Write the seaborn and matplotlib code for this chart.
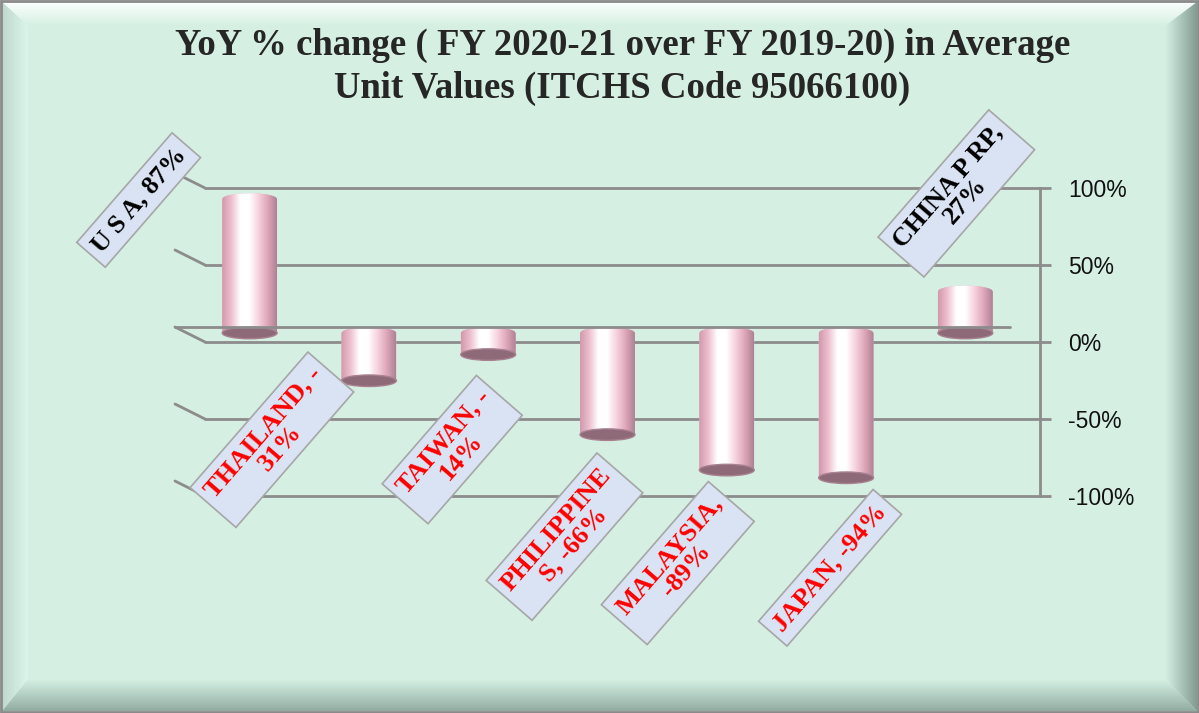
import numpy as np
import pandas as pd
import matplotlib
matplotlib.use("Agg")
import matplotlib.pyplot as plt
import matplotlib.transforms as mtransforms
from matplotlib.patches import Ellipse, Polygon, Rectangle
from matplotlib.colors import LinearSegmentedColormap
import seaborn as sns

# --- data ---
countries = ["U S A", "THAILAND", "TAIWAN", "PHILIPPINES", "MALAYSIA", "JAPAN", "CHINA P RP"]
yoy_change = [87, -31, -14, -66, -89, -94, 27]
label_text = ["U S A, 87%", "THAILAND, -\n31%", "TAIWAN, -\n14%", "PHILIPPINE\nS, -66%",
              "MALAYSIA,\n-89%", "JAPAN, -94%", "CHINA P RP,\n27%"]
y_ticks = [-100, -50, 0, 50, 100]
title = "YoY % change ( FY 2020-21 over FY 2019-20) in Average\nUnit Values (ITCHS Code 95066100)"

# label placement (pixel offsets from bar end)
label_offsets = [(-126, 8), (-112, -50), (-51, -86), (-58, -93), (-64, -84), (-31, -81), (-24, 107)]

sns.set_theme(style="white")
plt.rcParams["font.family"] = ["Liberation Serif", "DejaVu Sans"]

W, H = 1199, 713
mint = "#d5f0e3"
grid_col = "#8c8c8c"

fig = plt.figure(figsize=(W / 100, H / 100), dpi=100)
fig.patch.set_facecolor(mint)

# --- beveled frame ---
bg = fig.add_axes([0, 0, 1, 1], zorder=-10)
bg.axis("off")
g = np.linspace(0, 1, 64)


def bevel(poly, c_outer, c_inner, img, ext):
    cmap = LinearSegmentedColormap.from_list("b", [c_outer, c_inner])
    p = Polygon(poly, closed=True, fc="none", ec="none")
    bg.add_patch(p)
    im = bg.imshow(img, cmap=cmap, vmin=0, vmax=1, extent=ext, aspect="auto", origin="upper")
    im.set_clip_path(p)


ix0, iy0, ix1, iy1 = 28, 26, W - 34, H - 34
bevel([(2, 2), (W - 2, 2), (ix1, iy0), (ix0, iy0)], "#ffffff", mint, g[:, None], [0, W, iy0, 0])
bevel([(2, H - 2), (W - 2, H - 2), (ix1, iy1), (ix0, iy1)], "#8ea89e", mint, g[::-1][:, None], [0, W, H, iy1])
bevel([(2, 2), (ix0, iy0), (ix0, iy1), (2, H - 2)], "#bdd6cb", "#dcf5eb", g[None, :], [0, ix0, H, 0])
bevel([(W - 2, 2), (ix1, iy0), (ix1, iy1), (W - 2, H - 2)], "#7d978d", mint, g[::-1][None, :], [ix1, W, H, 0])
bg.set_xlim(0, W)
bg.set_ylim(H, 0)
bg.add_patch(Rectangle((1, 1), W - 2.5, H - 2.5, fc="none", ec="#8a8a8a", lw=2))

# --- main axes (back wall of the 3D plot) ---
left, right, top, bottom = 205, 1040, 188, 496
ax = fig.add_axes([left / W, (H - bottom) / H, (right - left) / W, (bottom - top) / H])
ax.set_facecolor("none")

df = pd.DataFrame({"country": countries, "change": yoy_change})
sns.barplot(data=df, x="country", y="change", color="#e8b6c6", width=0.46,
            saturation=1, ax=ax, zorder=3)

ax.set_ylim(-100, 100)
ax.set_xlim(-0.5, len(countries) - 0.5)
ax.set_xlabel("")
ax.set_ylabel("")
ax.set_xticks([])
ax.yaxis.tick_right()
ax.set_yticks(y_ticks)
ax.set_yticklabels([f"{t}%" for t in y_ticks], family="Liberation Sans", fontsize=16.5, color="#111111")
ax.tick_params(axis="y", direction="out", length=8, width=2, color=grid_col, pad=12)
ax.grid(axis="y", color=grid_col, lw=2)
for gl in ax.get_ygridlines():
    gl.set_clip_on(False)
ax.set_axisbelow(True)
for s in ["left", "top", "bottom"]:
    ax.spines[s].set_visible(False)
ax.spines["right"].set_color(grid_col)
ax.spines["right"].set_linewidth(2)

# side wall diagonals and front floor edge (depth offset)
depth = mtransforms.ScaledTranslation(-0.30, 0.15, fig.dpi_scale_trans)
for t in y_ticks:
    p = ax.transData.transform((-0.5, t))
    ax.plot([p[0] - 30, p[0]], [p[1] + 15, p[1]], color=grid_col, lw=2,
            transform=mtransforms.IdentityTransform(), clip_on=False, zorder=1)
ax.plot([-0.5, len(countries) - 0.5], [0, 0], color=grid_col, lw=2,
        transform=ax.transData + depth, clip_on=False, zorder=6)

# --- cylinders ---
half = mtransforms.ScaledTranslation(-0.15, 0.09, fig.dpi_scale_trans)
bar_trans = ax.transData + half
cyl = LinearSegmentedColormap.from_list(
    "cyl", ["#d299ad", "#edbfcf", "#ffffff", "#ffffff", "#f7d2de", "#dea7b9", "#ad8294"])
grad = np.linspace(0, 1, 128)[None, :]
ell_h = 7.5

for bar, v in zip(ax.patches, yoy_change):
    x0 = bar.get_x()
    w = bar.get_width()
    cx = x0 + w / 2
    lo, hi = min(0, v), max(0, v)
    bar.set_visible(False)
    xs = np.linspace(x0 + w, x0, 60)
    arc = hi + ell_h / 2 * np.sqrt(np.clip(1 - ((xs - cx) / (w / 2)) ** 2, 0, 1))
    verts = [(x0, lo), (x0 + w, lo)] + list(zip(xs, arc))
    body = Polygon(verts, closed=True, fc="#e8b6c6", ec="none", transform=bar_trans, zorder=3)
    ax.add_patch(body)
    im = ax.imshow(grad, cmap=cyl, extent=[x0, x0 + w, lo, hi + ell_h], aspect="auto",
                   transform=bar_trans, zorder=3.5)
    im.set_clip_path(body)
    ax.add_patch(Ellipse((cx, lo), w, ell_h, fc="#8e6a78", ec="#a8808f", lw=1,
                         transform=bar_trans, zorder=4))

ax.set_ylim(-100, 100)
ax.set_xlim(-0.5, len(countries) - 0.5)

# --- data labels ---
for i, (v, txt, off) in enumerate(zip(yoy_change, label_text, label_offsets)):
    ax.annotate(txt, xy=(i, v), xytext=off, textcoords="offset pixels",
                rotation=49, rotation_mode="anchor", ha="center", va="center",
                multialignment="center", fontsize=19, fontweight="bold",
                family=["Liberation Serif", "DejaVu Sans"],
                color="black" if v > 0 else "red", linespacing=1.0,
                bbox=dict(boxstyle="square,pad=0.28", fc="#dae3f3", ec="#a6a6a6", lw=1.2),
                annotation_clip=False, zorder=8)

fig.text(0.519, (H - 67) / H, title, ha="center", va="center", fontsize=26.5,
         fontweight="bold", family=["Liberation Serif", "DejaVu Sans"], linespacing=1.3)

fig.savefig("out.png", dpi=100, facecolor=fig.get_facecolor())
